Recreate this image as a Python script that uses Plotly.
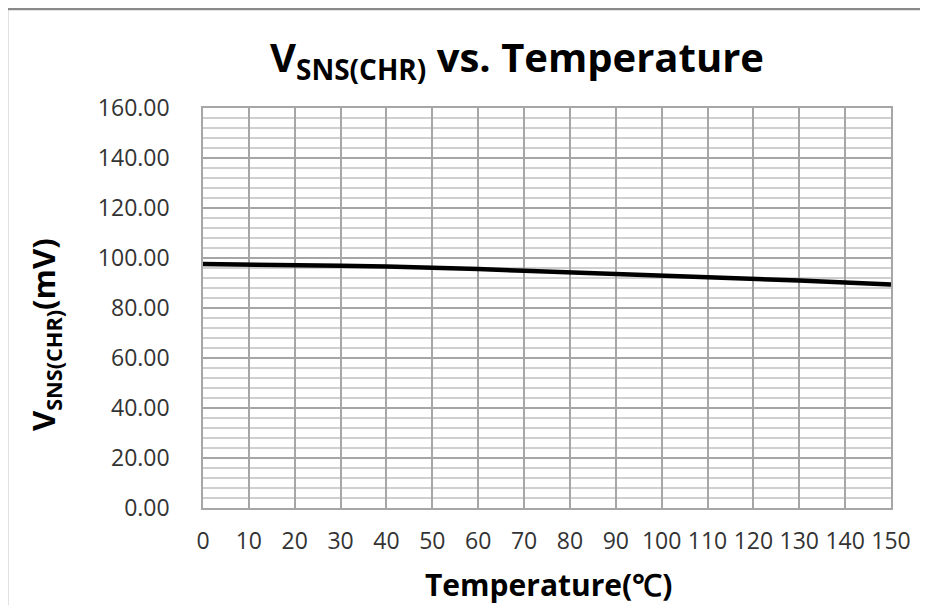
import plotly.graph_objects as go

temperature_c = [0, 10, 20, 30, 40, 50, 60, 70, 80, 90, 100, 110, 120, 130, 140, 150]
vsns_mv = [97.6, 97.5, 97.2, 96.9, 96.6, 96.3, 95.6, 94.9, 94.3, 93.7, 93.1, 92.3, 91.8, 91.0, 90.2, 89.4]

x_ticks = list(range(0, 151, 10))
y_ticks = list(range(0, 161, 20))

TICK_FONT = "Open Sans"
TITLE_FONT = "Open Sans"

# plot area in window pixels (page has an 8px body margin)
PX_L, PX_R, PX_T, PX_B = 203, 891, 108, 508
W, H = PX_R - PX_L, PX_B - PX_T


def px(xw):
    return (xw - PX_L) / W


def py(yw):
    return (PX_B - yw) / H


fig = go.Figure()
fig.add_trace(go.Scatter(
    x=temperature_c, y=vsns_mv, mode="lines",
    line=dict(color="black", width=4.5), showlegend=False, hoverinfo="skip",
))

grid_major = "#a6a6a6"
fig.update_xaxes(
    range=[0, 150], tickmode="array", tickvals=x_ticks, ticktext=[str(v) for v in x_ticks],
    showgrid=True, gridcolor=grid_major, gridwidth=1.5,
    showline=True, linecolor=grid_major, linewidth=1.5, mirror=True,
    zeroline=False, ticks="outside", ticklen=12, tickcolor="rgba(0,0,0,0)",
    tickfont=dict(family=TICK_FONT, size=23, color="#333333"),
)
fig.update_yaxes(
    range=[0, 160], tickmode="array", tickvals=y_ticks, ticktext=[f"{v:.2f}" for v in y_ticks],
    showgrid=True, gridcolor=grid_major, gridwidth=1.5,
    minor=dict(dtick=4, showgrid=True, gridcolor="#cfcfcf", gridwidth=1.5),
    showline=True, linecolor=grid_major, linewidth=1.5, mirror=True,
    zeroline=False, ticks="outside", ticklen=27, tickcolor="rgba(0,0,0,0)",
    tickfont=dict(family=TICK_FONT, size=23, color="#333333"),
)

fig_w, fig_h = 920, 597
fig.update_layout(
    width=fig_w, height=fig_h,
    margin=dict(l=PX_L - 8, r=fig_w - (PX_R - 8), t=PX_T - 8, b=fig_h - (PX_B - 8), autoexpand=False),
    paper_bgcolor="white", plot_bgcolor="white",
    font=dict(family=TITLE_FONT),
    annotations=[
        dict(text="<b>V<sub>SNS(CHR)</sub> vs. Temperature</b>", x=px(517), y=py(58),
             xref="paper", yref="paper", showarrow=False, xanchor="center", yanchor="middle",
             font=dict(family=TITLE_FONT, size=40, color="black")),
        dict(text="<b>Temperature(℃)</b>", x=px(548), y=py(584),
             xref="paper", yref="paper", showarrow=False, xanchor="center", yanchor="middle",
             font=dict(family=TITLE_FONT, size=30, color="black")),
        dict(text="<b>V<sub>SNS(CHR)</sub>(mV)</b>", x=px(45), y=py(335), textangle=-90,
             xref="paper", yref="paper", showarrow=False, xanchor="center", yanchor="middle",
             font=dict(family=TITLE_FONT, size=31, color="black")),
    ],
    shapes=[
        dict(type="rect", xref="paper", yref="paper",
             x0=px(7), x1=px(1100), y0=py(800), y1=py(9),
             line=dict(color="#8a8a8a", width=2.5), fillcolor="rgba(0,0,0,0)", layer="below"),
    ],
)

fig.write_html("out.html")
